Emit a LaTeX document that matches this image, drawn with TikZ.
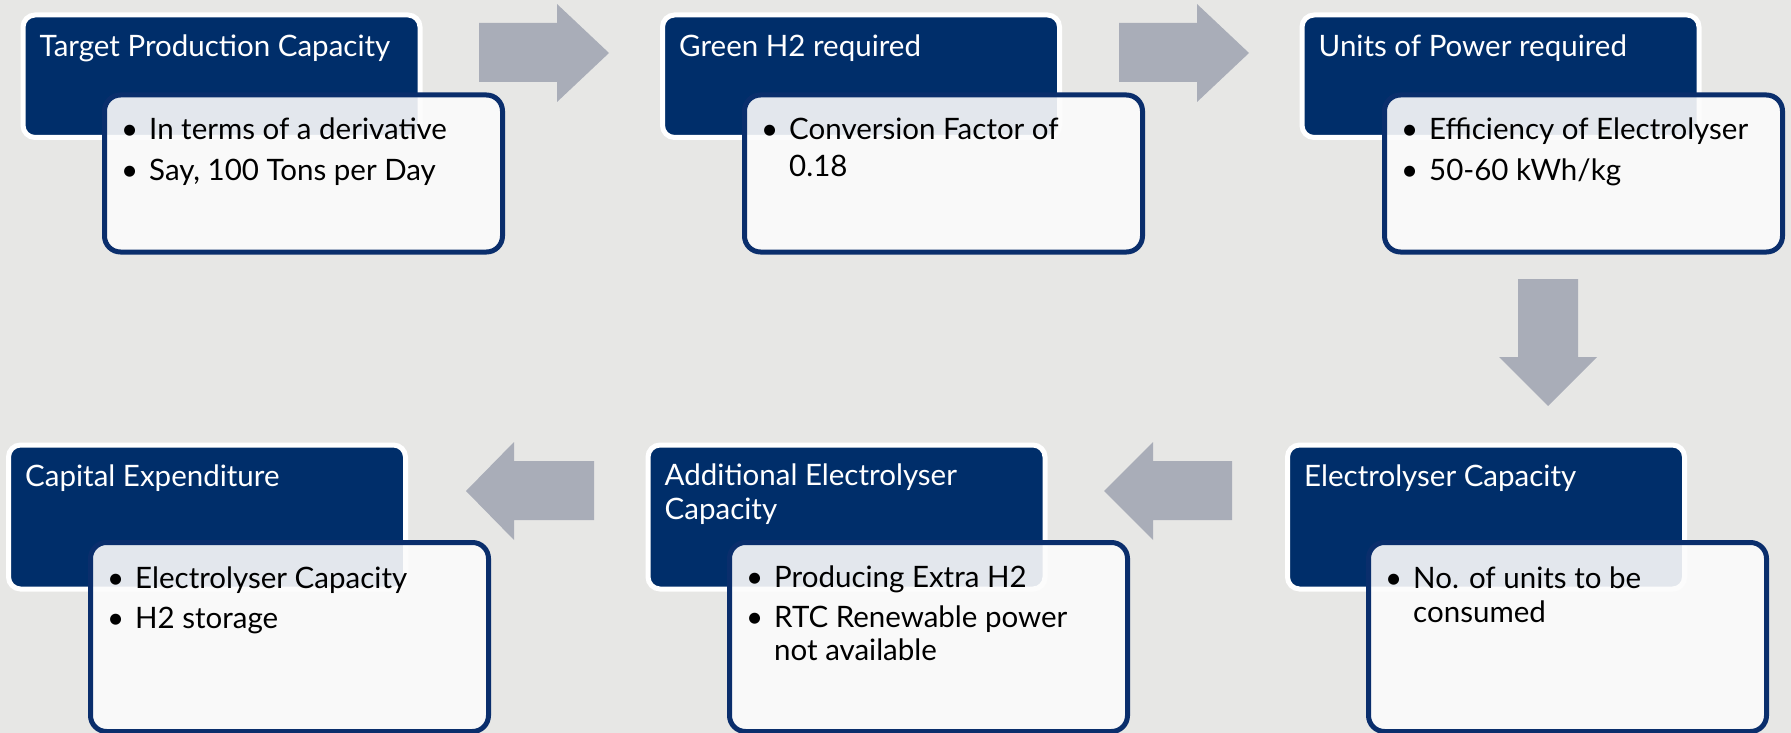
\documentclass[tikz,border=0pt]{standalone}
\usepackage{fontspec}
\setmainfont{Lato}
\usetikzlibrary{calc}
\definecolor{bgc}{RGB}{231,231,229}
\definecolor{navy}{RGB}{0,46,106}
\definecolor{navyline}{RGB}{10,46,108}
\definecolor{arrowc}{RGB}{169,173,184}
\definecolor{boxw}{RGB}{252,252,252}
\newcommand{\itemdot}{\makebox[0pt][r]{\textbullet\hspace{11pt}}}
\begin{document}
\begin{tikzpicture}[x=1pt,y=1pt,
  darkbox/.style={fill=navy, draw=white, line width=5pt, rounded corners=12pt, inner sep=0pt, anchor=north west, minimum width=397pt},
  whitebox/.style={fill=boxw, fill opacity=0.9, draw=navyline, draw opacity=1, line width=5pt, rounded corners=16pt, inner sep=0pt, anchor=north west, minimum width=398pt},
  ttl/.style={anchor=base west, inner sep=0pt, text=white, font=\fontsize{29.5}{35}\selectfont},
  itm/.style={anchor=base west, inner sep=0pt, text=black, font=\fontsize{29.5}{35}\selectfont},
  blockarrow/.style={fill=arrowc}
]
\useasboundingbox (0,0) rectangle (1791,-733);
\fill[bgc] (0,0) rectangle (1791,-733);

% block arrows
\fill[blockarrow] (479,-23) -- (557,-23) -- (557,-4) -- (609,-53) -- (557,-102) -- (557,-82) -- (479,-82) -- cycle;
\fill[blockarrow] (1119,-23) -- (1197,-23) -- (1197,-4) -- (1249,-53) -- (1197,-102) -- (1197,-82) -- (1119,-82) -- cycle;
\fill[blockarrow] (1518,-279) -- (1578,-279) -- (1578,-357) -- (1597,-357) -- (1548,-406) -- (1499,-357) -- (1518,-357) -- cycle;
\fill[blockarrow] (594,-461) -- (514,-461) -- (514,-442) -- (466,-491) -- (514,-540) -- (514,-520) -- (594,-520) -- cycle;
\fill[blockarrow] (1232,-461) -- (1153,-461) -- (1153,-442) -- (1104,-491) -- (1153,-540) -- (1153,-520) -- (1232,-520) -- cycle;

% dark header boxes
\node[darkbox, minimum height=122.5pt] (d1) at (20.5,-12.5) {};
\node[darkbox, minimum height=122.5pt] (d2) at (660,-12.5) {};
\node[darkbox, minimum height=122.5pt] (d3) at (1299.5,-12.5) {};
\node[darkbox, minimum height=144pt] (d4) at (6,-442.5) {};
\node[darkbox, minimum height=144pt] (d5) at (645.5,-442.5) {};
\node[darkbox, minimum height=144pt] (d6) at (1285,-442.5) {};

% white detail boxes
\node[whitebox, minimum height=157pt] (w1) at (102,-92.5) {};
\node[whitebox, minimum height=157pt] (w2) at (742,-92.5) {};
\node[whitebox, minimum height=157pt] (w3) at (1382,-92.5) {};
\node[whitebox, minimum height=189pt] (w4) at (88,-540) {};
\node[whitebox, minimum height=189pt] (w5) at (727,-540) {};
\node[whitebox, minimum height=189pt] (w6) at (1366,-540) {};

% titles
\node[ttl] (t1) at ($(d1.north west)+(19,-44)$) {Target Production Capacity};
\node[ttl] (t2) at ($(d2.north west)+(19,-44)$) {Green H2 required};
\node[ttl] (t3) at ($(d3.north west)+(19,-44)$) {Units of Power required};
\node[ttl] (t4) at ($(d4.north west)+(19,-44)$) {Capital Expenditure};
\node[ttl] (t5a) at ($(d5.north west)+(19,-43)$) {Additional Electrolyser};
\node[ttl] (t5b) at ($(d5.north west)+(19,-77)$) {Capacity};
\node[ttl] (t6) at ($(d6.north west)+(19,-44)$) {Electrolyser Capacity};

% bullet items
\node[itm] (i1a) at ($(w1.north west)+(47,-47.5)$) {\itemdot In terms of a derivative};
\node[itm] (i1b) at ($(w1.north west)+(47,-87.5)$) {\itemdot Say, 100 Tons per Day};
\node[itm] (i2a) at ($(w2.north west)+(47,-47.5)$) {\itemdot Conversion Factor of};
\node[itm] (i2b) at ($(w2.north west)+(47,-83.5)$) {0.18};
\node[itm] (i3a) at ($(w3.north west)+(47,-47.5)$) {\itemdot Efficiency of Electrolyser};
\node[itm] (i3b) at ($(w3.north west)+(47,-87.5)$) {\itemdot 50-60 kWh/kg};
\node[itm] (i4a) at ($(w4.north west)+(47,-48)$) {\itemdot Electrolyser Capacity};
\node[itm] (i4b) at ($(w4.north west)+(47,-88)$) {\itemdot H2 storage};
\node[itm] (i5a) at ($(w5.north west)+(47,-47)$) {\itemdot Producing Extra H2};
\node[itm] (i5b) at ($(w5.north west)+(47,-87)$) {\itemdot RTC Renewable power};
\node[itm] (i5c) at ($(w5.north west)+(47,-120)$) {not available};
\node[itm] (i6a) at ($(w6.north west)+(47,-48)$) {\itemdot No. of units to be};
\node[itm] (i6b) at ($(w6.north west)+(47,-82)$) {consumed};
\end{tikzpicture}
\end{document}
